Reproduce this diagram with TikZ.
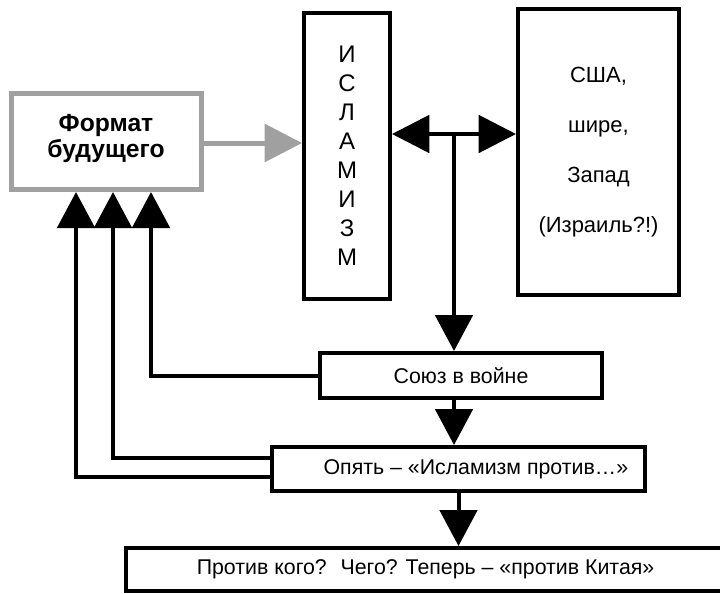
\documentclass[tikz,border=0pt]{standalone}
\usepackage{fontspec}
\setmainfont{Liberation Sans}
\usetikzlibrary{arrows.meta,calc}
\definecolor{fmtgray}{RGB}{160,160,160}
\tikzset{
  box/.style={draw, line width=3pt, inner sep=0pt, align=center, font=\fontsize{16}{19}\selectfont},
  arr/.style={line width=3pt, -{Triangle[length=27pt,width=28pt]}},
}

\begin{document}
\begin{tikzpicture}[x=0.75pt, y=-0.75pt]
  \clip (0,0) rectangle (720,593);

  % Boxes
  \node[box, draw=fmtgray, line width=3.75pt, minimum width=142.5pt, minimum height=72pt,
        font=\bfseries\fontsize{18.5}{19.5}\selectfont] (fmt) at (106,141.5)
        {Формат\\будущего\\[-11pt]\mbox{}};
  \node[box, minimum width=64.5pt, minimum height=214.5pt,
        font=\fontsize{18}{21.75}\selectfont] (islam) at (347,156) {И\\С\\Л\\А\\М\\И\\З\\М};
  \node[box, minimum width=120.75pt, minimum height=214.5pt,
        font=\fontsize{16.5}{37.5}\selectfont] (usa) at (598.5,152) {США,\\шире,\\Запад\\(Израиль?!)};
  \node[box, minimum width=211.5pt, minimum height=33.75pt] (soyuz) at (461,375.5) {Союз в войне};
  \node[box, minimum width=279.75pt, minimum height=33pt] (again) at (458.5,469)
        {\hspace*{26pt}Опять – «Исламизм против…»};
  \node[box, minimum width=449.25pt, minimum height=32.25pt] (against) at (425.5,569.5)
        {Против кого?~ Чего? Теперь – «против Китая»};

  % Arrows
  \draw[fmtgray, line width=3.75pt, -{Triangle[length=28pt,width=28pt]}]
    ($(fmt.east)+(0,1.5)$) -- ($(fmt.east -| islam.west)+(0,1.5)$);
  \coordinate (jn) at (454,134);
  \draw[line width=3pt, {Triangle[length=28pt,width=28pt]}-{Triangle[length=28pt,width=28pt]}]
    (jn -| islam.east) -- (jn -| usa.west);
  \draw[arr] (jn) -- (jn |- soyuz.north);
  \draw[arr] (jn |- soyuz.south) -- (jn |- again.north);
  \draw[arr] (again.south) -- (again.south |- against.north);

  % Feedback to the format box
  \draw[arr] (soyuz.west) -| ($(fmt.south)+(45,0)$);
  \draw[arr] ($(again.west)+(0,-11)$) -| ($(fmt.south)+(7,0)$);
  \draw[arr] ($(again.west)+(0,8)$) -| ($(fmt.south)+(-30,0)$);
\end{tikzpicture}
\end{document}
